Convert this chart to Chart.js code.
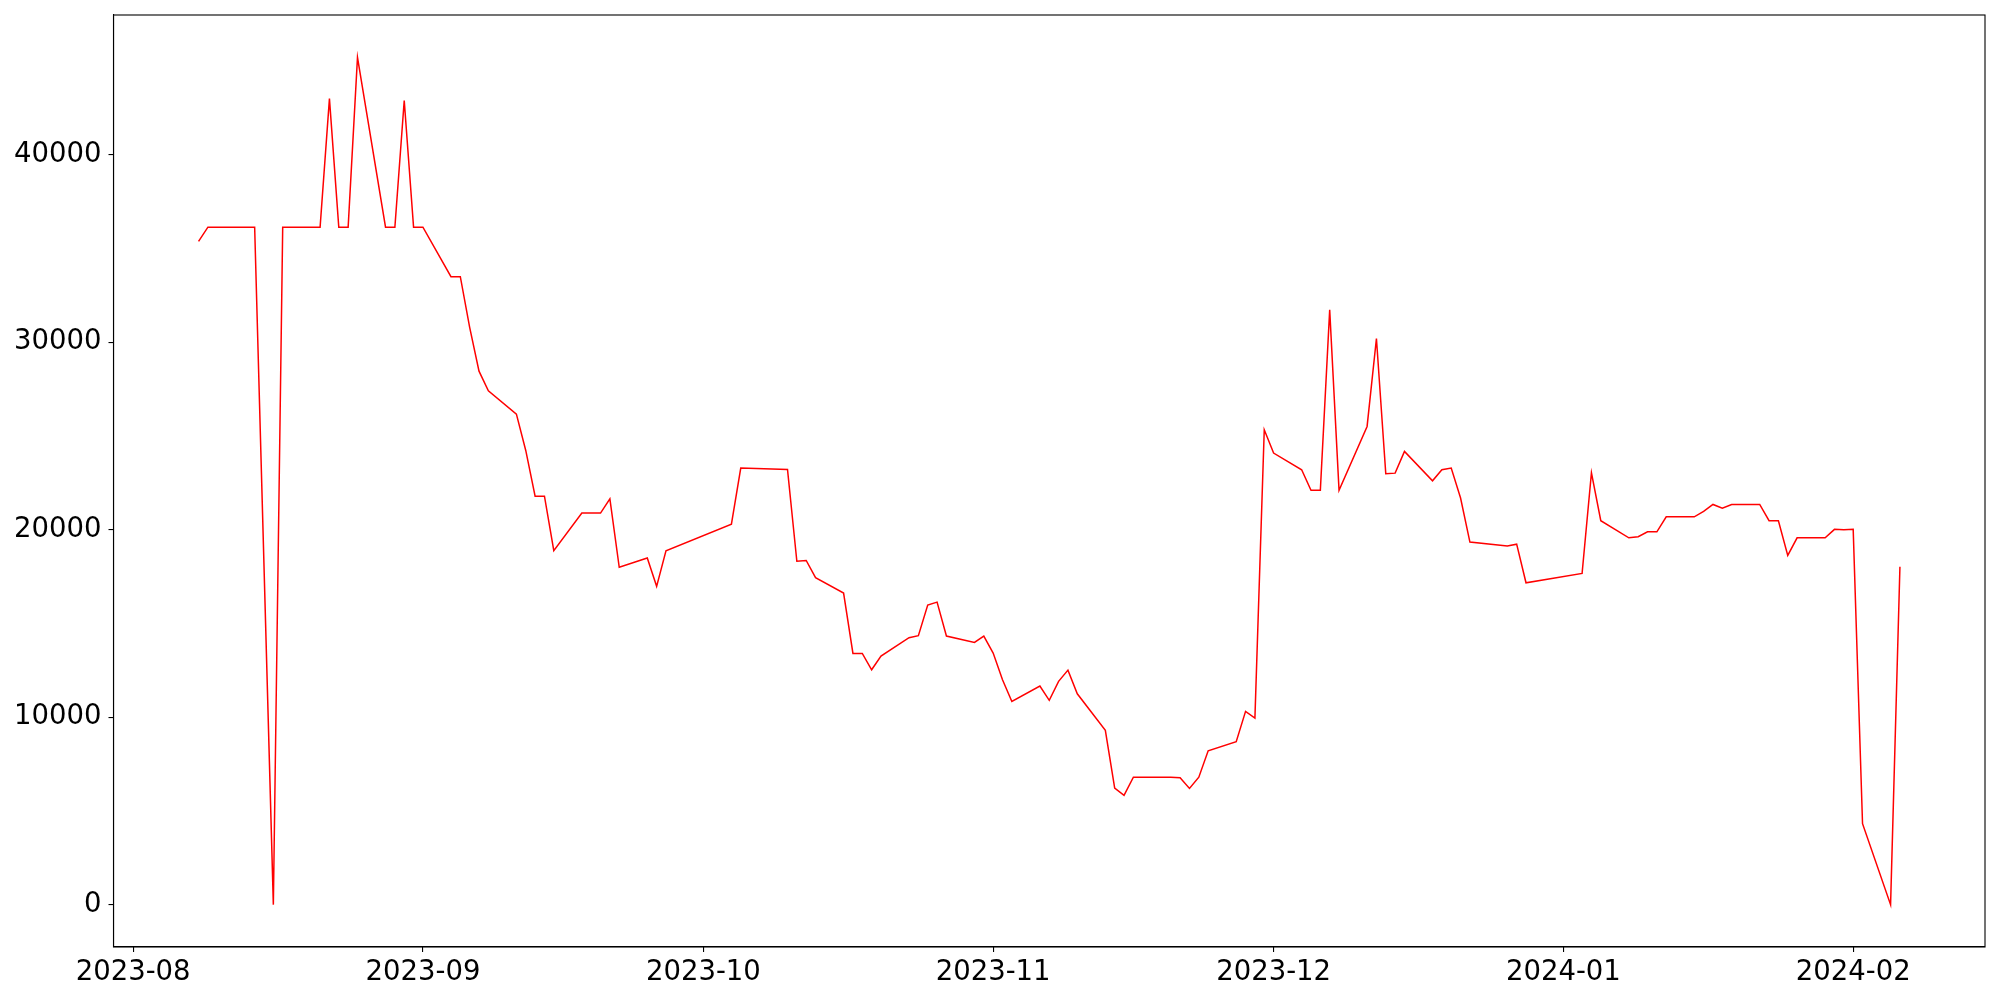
<!DOCTYPE html>
<html>
<head>
<meta charset="utf-8">
<script src="https://cdn.jsdelivr.net/npm/chart.js@4/dist/chart.umd.min.js"></script>
<style>
  html, body { margin: 0; padding: 0; background: #fff; }
  #wrap { width: 2000px; height: 1000px; }
</style>
</head>
<body>
<div id="wrap"><canvas id="c" width="2000" height="1000"></canvas></div>
<script>
const dates = [
  "2023-08-08","2023-08-09","2023-08-14","2023-08-16","2023-08-17","2023-08-21","2023-08-22","2023-08-23","2023-08-24","2023-08-25",
  "2023-08-28","2023-08-29","2023-08-30","2023-08-31","2023-09-01","2023-09-04","2023-09-05","2023-09-06","2023-09-07","2023-09-08",
  "2023-09-11","2023-09-12","2023-09-13","2023-09-14","2023-09-15","2023-09-18","2023-09-20","2023-09-21","2023-09-22","2023-09-25",
  "2023-09-26","2023-09-27","2023-10-04","2023-10-05","2023-10-10","2023-10-11","2023-10-12","2023-10-13","2023-10-16","2023-10-17",
  "2023-10-18","2023-10-19","2023-10-20","2023-10-23","2023-10-24","2023-10-25","2023-10-26","2023-10-27","2023-10-30","2023-10-31",
  "2023-11-01","2023-11-02","2023-11-03","2023-11-06","2023-11-07","2023-11-08","2023-11-09","2023-11-10","2023-11-13","2023-11-14",
  "2023-11-15","2023-11-16","2023-11-20","2023-11-21","2023-11-22","2023-11-23","2023-11-24","2023-11-27","2023-11-28","2023-11-29",
  "2023-11-30","2023-12-01","2023-12-04","2023-12-05","2023-12-06","2023-12-07","2023-12-08","2023-12-11","2023-12-12","2023-12-13",
  "2023-12-14","2023-12-15","2023-12-18","2023-12-19","2023-12-20","2023-12-21","2023-12-22","2023-12-26","2023-12-27","2023-12-28",
  "2024-01-03","2024-01-04","2024-01-05","2024-01-08","2024-01-09","2024-01-10","2024-01-11","2024-01-12","2024-01-15","2024-01-16",
  "2024-01-17","2024-01-18","2024-01-19","2024-01-22","2024-01-23","2024-01-24","2024-01-25","2024-01-26","2024-01-29","2024-01-30",
  "2024-01-31","2024-02-01","2024-02-02","2024-02-05","2024-02-06"
];
const values = [
  35380,36140,36140,0,36140,36140,43000,36140,36140,45200,
  36140,36140,42900,36140,36140,33500,33500,30800,28460,27410,
  26170,24230,21790,21790,18880,20890,20890,21650,18000,18490,
  16980,18880,20300,23290,23220,18320,18360,17440,16620,13400,
  13400,12530,13260,14240,14350,15980,16140,14330,13990,14330,
  13420,12000,10840,11660,10900,11910,12510,11250,9300,6220,
  5830,6800,6800,6770,6200,6800,8210,8690,10310,9950,
  25330,24090,23200,22100,22100,31730,22100,25510,30200,22990,
  23020,24180,22610,23200,23290,21690,19340,19130,19230,17170,
  17670,23040,20480,19570,19630,19890,19890,20690,20690,20980,
  21350,21150,21350,21350,20480,20480,18630,19570,19570,20020,
  20000,20020,4320,0,18030
];
const xTickLabels = ["2023-08","2023-09","2023-10","2023-11","2023-12","2024-01","2024-02"];
const yTickValues = [0, 10000, 20000, 30000, 40000];

const toMs = s => { const p = s.split("-").map(Number); return Date.UTC(p[0], p[1]-1, p[2] || 1); };
const points = dates.map((d, i) => ({ x: toMs(d), y: values[i] }));

const xs = points.map(p => p.x), ys = points.map(p => p.y);
const xMinD = Math.min(...xs), xMaxD = Math.max(...xs);
const yMinD = Math.min(...ys), yMaxD = Math.max(...ys);
const xr = xMaxD - xMinD, yr = yMaxD - yMinD;

const FONT = { family: "'DejaVu Sans'", size: 27.5 };

const frame = {
  id: 'frame',
  afterDatasetsDraw(chart) {
    const a = chart.chartArea, ctx = chart.ctx;
    ctx.save();
    ctx.strokeStyle = '#000';
    ctx.lineWidth = 1.1;
    ctx.strokeRect(a.left, a.top, a.right - a.left, a.bottom - a.top);
    ctx.restore();
  }
};

new Chart(document.getElementById('c'), {
  type: 'line',
  data: {
    datasets: [{
      data: points,
      borderColor: '#ff0000',
      borderWidth: 1.5,
      pointRadius: 0,
      tension: 0,
      fill: false
    }]
  },
  options: {
    responsive: false,
    animation: false,
    layout: { padding: { top: 15, right: 15, left: 0, bottom: 0 } },
    plugins: { legend: { display: false }, tooltip: { enabled: false } },
    scales: {
      x: {
        type: 'linear',
        min: xMinD - 0.05 * xr,
        max: xMaxD + 0.05 * xr,
        border: { display: true, color: '#000', width: 1.1 },
        grid: { display: true, drawOnChartArea: false, drawTicks: true, tickLength: 5, color: '#000', lineWidth: 1.1 },
        ticks: {
          color: '#000', font: FONT, padding: 4, maxRotation: 0, autoSkip: false,
          callback: (v) => new Date(v).toISOString().slice(0, 7)
        },
        afterBuildTicks: (s) => { s.ticks = xTickLabels.map(t => ({ value: toMs(t) })); },
        afterFit: (s) => { s.height = 53; s.paddingLeft = 0; s.paddingRight = 0; }
      },
      y: {
        type: 'linear',
        min: yMinD - 0.05 * yr,
        max: yMaxD + 0.05 * yr,
        border: { display: true, color: '#000', width: 1.1 },
        grid: { display: true, drawOnChartArea: false, drawTicks: true, tickLength: 5, color: '#000', lineWidth: 1.1 },
        ticks: { color: '#000', font: FONT, padding: 7, callback: (v) => String(v) },
        afterBuildTicks: (s) => { s.ticks = yTickValues.map(v => ({ value: v })); },
        afterFit: (s) => { s.width = 113.5; s.paddingTop = 0; s.paddingBottom = 0; }
      }
    }
  },
  plugins: [frame]
});
</script>
</body>
</html>
